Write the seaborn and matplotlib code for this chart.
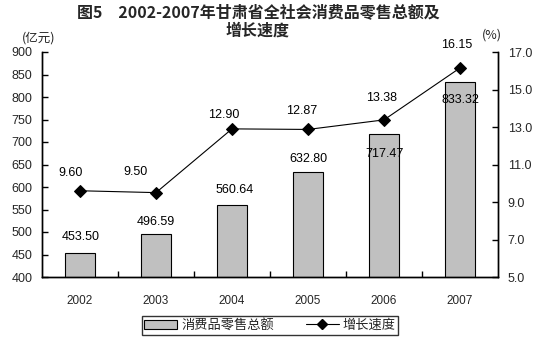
import matplotlib
matplotlib.use("Agg")
import matplotlib.pyplot as plt
import seaborn as sns
import pandas as pd
from matplotlib.patches import Patch
from matplotlib.lines import Line2D

years = ["2002", "2003", "2004", "2005", "2006", "2007"]
sales = [453.50, 496.59, 560.64, 632.80, 717.47, 833.32]
growth = [9.60, 9.50, 12.90, 12.87, 13.38, 16.15]
left_ticks = [400, 450, 500, 550, 600, 650, 700, 750, 800, 850, 900]
right_ticks = [5.0, 7.0, 9.0, 11.0, 13.0, 15.0, 17.0]
title = "图5　2002-2007年甘肃省全社会消费品零售总额及\n增长速度"
sales_name = "消费品零售总额"
growth_name = "增长速度"

df = pd.DataFrame({"year": years, "sales": sales, "growth": growth})

sns.set_theme(style="white")
plt.rcParams["font.family"] = ["Liberation Sans", "Noto Sans CJK SC", "DejaVu Sans"]
cjk = ["Noto Sans CJK SC", "DejaVu Sans"]

W, H = 544, 342
fig = plt.figure(figsize=(W / 100, H / 100), dpi=100)
fig.patch.set_facecolor("white")
L, R, T, B = 42, 498, 52, 277
ax = fig.add_axes([L / W, 1 - B / H, (R - L) / W, (B - T) / H])
ax.set_facecolor("white")

sns.barplot(data=df, x="year", y="sales", color="#C0C0C0", edgecolor="black",
            linewidth=0.8, width=0.4, saturation=1, ax=ax)
ax.set_ylim(400, 900)
ax.set_xlim(-0.5, len(years) - 0.5)
ax.set_yticks(left_ticks)
ax.set_yticklabels([f"{v:d}" for v in left_ticks])
ax.set_xlabel("")
ax.set_ylabel("")

ax2 = ax.twinx()
sns.lineplot(data=df, x="year", y="growth", color="black", marker="D",
             markersize=6, markeredgecolor="black", linewidth=0.8, ax=ax2)
ax2.set_ylim(5, 17)
ax2.set_yticks(right_ticks)
ax2.set_yticklabels([f"{v:.1f}" for v in right_ticks])
ax2.set_ylabel("")

for a in (ax, ax2):
    a.spines["top"].set_visible(False)
    for s in ("left", "right", "bottom"):
        a.spines[s].set_color("black")
        a.spines[s].set_linewidth(1.0)

ax.tick_params(axis="y", direction="in", length=4, width=1, color="black",
               labelsize=9, pad=7, left=True)
ax2.tick_params(axis="y", direction="in", length=4, width=1, color="black",
                labelsize=9, pad=7, right=True)
ax.tick_params(axis="x", which="major", length=0, labelsize=8.5, pad=13)
ax.set_xticks([i + 0.5 for i in range(len(years) - 1)], minor=True)
ax.tick_params(axis="x", which="minor", direction="in", length=4, width=1,
               color="black", bottom=True)

# value labels, offsets in pixels relative to each mark
bar_offsets = [(1, 16), (0, 12), (3, 15), (0, 13), (1, -20), (0, -18)]
for i, (v, (dx, dy)) in enumerate(zip(sales, bar_offsets)):
    ax.annotate(f"{v:.2f}", (i, v), xytext=(dx, dy), textcoords="offset pixels",
                ha="center", va="center", fontsize=9, color="black")

line_offsets = [(-9, 18), (-21, 21), (-8, 14), (-6, 18), (-2, 22), (-3, 23)]
for i, (v, (dx, dy)) in enumerate(zip(growth, line_offsets)):
    ax2.annotate(f"{v:.2f}", (i, v), xytext=(dx, dy), textcoords="offset pixels",
                 ha="center", va="center", fontsize=9, color="black")

fig.text(258 / W, 1 - 22 / H, title, ha="center", va="center", fontsize=11.5,
         fontweight="bold", family=cjk, linespacing=1.1, multialignment="center")
fig.text(39 / W, 1 - 38 / H, "(亿元)", ha="center", va="center", fontsize=9, family=cjk)
fig.text(492 / W, 1 - 35 / H, "(%)", ha="center", va="center", fontsize=9, family=cjk)

handles = [Patch(facecolor="#C0C0C0", edgecolor="black", linewidth=0.8),
           Line2D([], [], color="black", marker="D", markersize=5, linewidth=0.8)]
leg = fig.legend(handles, [sales_name, growth_name], loc="center",
                 bbox_to_anchor=(270 / W, 1 - 325.5 / H), ncol=2,
                 prop={"family": cjk, "size": 9.5}, frameon=True, fancybox=False,
                 edgecolor="black", handlelength=2.5, handleheight=0.7,
                 columnspacing=2.4, handletextpad=0.3, borderpad=0.2,
                 borderaxespad=0)
leg.get_frame().set_linewidth(1.0)

fig.savefig("out.png", dpi=100, facecolor="white")
